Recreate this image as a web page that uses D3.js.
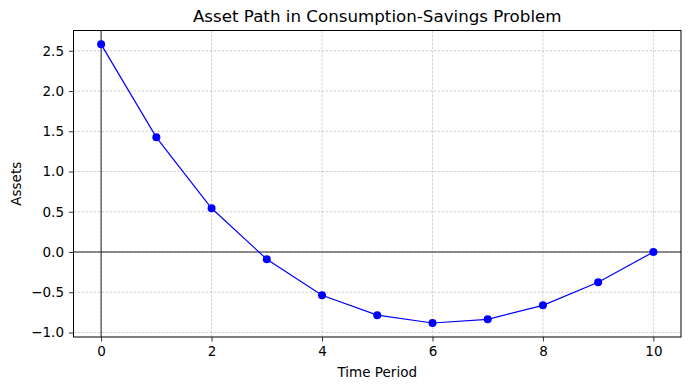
<!DOCTYPE html>
<html>
<head>
<meta charset="utf-8">
<script src="https://cdn.jsdelivr.net/npm/d3@7"></script>
<style>
body { margin: 0; background: #fff; }
text { font-family: "DejaVu Sans", sans-serif; fill: #000; }
</style>
</head>
<body>
<svg></svg>
<script>
var periods = [0, 1, 2, 3, 4, 5, 6, 7, 8, 9, 10]
var assets = [2.58, 1.425, 0.543, -0.09, -0.537, -0.785, -0.882, -0.836, -0.663, -0.376, 0.0]
var xTicks = [0, 2, 4, 6, 8, 10]
var yTicks = [-1.0, -0.5, 0.0, 0.5, 1.0, 1.5, 2.0, 2.5]

var width = 690, height = 390
var margin = {left: 73.5, right: 9, top: 30.5, bottom: 53}

var svg = d3.select('svg').attr('width', width).attr('height', height)

var x = d3.scaleLinear().domain([-0.5, 10.5]).range([margin.left, width - margin.right])
var y = d3.scaleLinear().domain([-1.056, 2.752]).range([height - margin.bottom, margin.top])

// grid
var grid = svg.append('g')
grid.selectAll('.gx').data(xTicks).enter().append('line')
	.attr('x1', function(d) {return x(d)}).attr('x2', function(d) {return x(d)})
	.attr('y1', y.range()[0]).attr('y2', y.range()[1])
	.attr('stroke', '#b0b0b0').attr('stroke-width', 0.6).attr('stroke-dasharray', '2.5,1.5')
grid.selectAll('.gy').data(yTicks).enter().append('line')
	.attr('y1', function(d) {return y(d)}).attr('y2', function(d) {return y(d)})
	.attr('x1', x.range()[0]).attr('x2', x.range()[1])
	.attr('stroke', '#b0b0b0').attr('stroke-width', 0.6).attr('stroke-dasharray', '2.5,1.5')

// zero lines
svg.append('line').attr('x1', x.range()[0]).attr('x2', x.range()[1])
	.attr('y1', y(0)).attr('y2', y(0)).attr('stroke', '#222').attr('stroke-width', 1)
svg.append('line').attr('x1', x(0)).attr('x2', x(0))
	.attr('y1', y.range()[0]).attr('y2', y.range()[1]).attr('stroke', '#222').attr('stroke-width', 1)

// data
var line = d3.line().x(function(d, i) {return x(periods[i])}).y(function(d) {return y(d)})
svg.append('path').datum(assets).attr('d', line)
	.attr('fill', 'none').attr('stroke', '#0000ff').attr('stroke-width', 1.2)
svg.selectAll('.pt').data(assets).enter().append('circle')
	.attr('cx', function(d, i) {return x(periods[i])})
	.attr('cy', function(d) {return y(d)})
	.attr('r', 4).attr('fill', '#0000ff')

// axes
var xAxis = svg.append('g').attr('transform', 'translate(0,' + y.range()[0] + ')')
	.call(d3.axisBottom(x).tickValues(xTicks).tickSize(4.5).tickPadding(5).tickFormat(d3.format('d')))
var yAxis = svg.append('g').attr('transform', 'translate(' + x.range()[0] + ',0)')
	.call(d3.axisLeft(y).tickValues(yTicks).tickSize(4.5).tickPadding(5).tickFormat(function(d) {return d3.format('.1f')(d).replace('-', '\u2212')}))
svg.selectAll('.domain').remove()
svg.selectAll('.tick line').attr('stroke', '#000').attr('stroke-width', 0.8)
svg.selectAll('.tick text').style('font-size', '13.5px').style('font-family', '"DejaVu Sans", sans-serif')

// frame
svg.append('rect').attr('x', x.range()[0]).attr('y', y.range()[1])
	.attr('width', x.range()[1] - x.range()[0]).attr('height', y.range()[0] - y.range()[1])
	.attr('fill', 'none').attr('stroke', '#000').attr('stroke-width', 1)

svg.append('text').attr('x', (x.range()[0] + x.range()[1]) / 2).attr('y', 22)
	.attr('text-anchor', 'middle').style('font-size', '16.7px').text('Asset Path in Consumption-Savings Problem')
svg.append('text').attr('x', (x.range()[0] + x.range()[1]) / 2).attr('y', 377)
	.attr('text-anchor', 'middle').style('font-size', '13.5px').text('Time Period')
svg.append('text').attr('transform', 'translate(21,' + ((y.range()[0] + y.range()[1]) / 2) + ') rotate(-90)')
	.attr('text-anchor', 'middle').style('font-size', '13.5px').text('Assets')
</script>
</body>
</html>
